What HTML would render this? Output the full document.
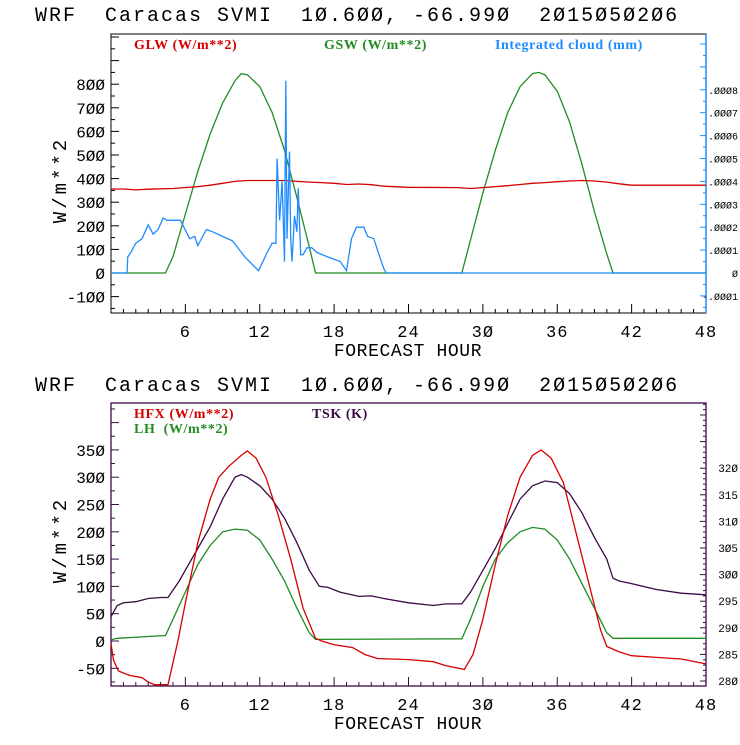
<!DOCTYPE html>
<html><head><meta charset="utf-8"><style>
body{margin:0;background:#fff;}
svg text{font-family:"Liberation Mono",monospace;white-space:pre;}
.lg{font-family:"Liberation Serif",serif;font-weight:bold;font-size:14px;letter-spacing:0.6px;}
</style></head><body>
<svg id="chart" width="740" height="740" xmlns="http://www.w3.org/2000/svg">
<rect width="740" height="740" fill="#fff"/>
<g id="top"></g>
<g id="bot"></g>
</svg>
<script>
// ---- data ----
const glwHours=[0,1,2,3,5,7,8,9,10,11,14,15,16,17,18,19,20,21,22,24,28,29,30,32,33,34,35,36,37,38,39,40,41,42,48];
const glwVals=[356,356,352,355,358,366,372,380,388,392,392,388,385,383,380,375,377,374,368,363,362,358,362,370,375,380,383,387,390,392,390,385,378,372,372];
const gswHours=[0,4.4,5,6,7,8,9,10,10.5,11,12,13,14,15,16,16.5,28.3,29,30,31,32,33,34,34.5,35,36,37,38,39,40,40.5,48];
const gswVals=[0,0,70,250,430,590,720,815,845,840,790,680,520,320,110,0,0,140,340,520,680,790,845,850,840,770,640,460,260,80,0,0];
const cloudHours=[0,1.3,1.35,1.6,2,2.5,3,3.4,3.8,4.2,4.5,5.6,6.35,6.75,7.0,7.7,8.2,9.0,9.8,10.8,11.9,12.6,13.0,13.3,13.4,13.6,13.8,14.0,14.1,14.2,14.4,14.5,14.6,14.8,15.0,15.1,15.3,15.5,15.8,16.2,16.6,17.5,18.5,19.0,19.4,19.8,20.4,20.7,21.2,21.5,22.0,22.2,48];
const cloudVals=[0,0,0.7,0.9,1.3,1.5,2.1,1.7,1.9,2.4,2.3,2.3,1.5,1.6,1.2,1.9,1.8,1.6,1.4,0.7,0.1,0.9,1.3,1.3,5.0,2.3,4.0,0.5,8.4,1.5,5.3,1.5,0.5,2.5,1.8,3.7,0.8,0.8,1.1,1.1,0.9,0.7,0.5,0.1,1.5,2.0,2.0,1.6,1.5,1.0,0.2,0,0];
const hfxHours=[0,0.2,0.6,1.5,2.5,3,3.5,4.6,5.4,6,7,8,8.7,9.5,10.5,11,11.7,12.5,13.5,14.5,15.5,16.5,17,18,19.5,20.5,21.5,24,26,27,28.5,29.2,30,31,32,33,34,34.7,35.5,36.5,37.5,38.5,39.5,40,41,42,44,46,48];
const hfxVals=[-5,-35,-55,-63,-67,-75,-80,-80,0,70,180,260,300,320,340,348,335,300,230,150,60,5,0,-7,-12,-25,-32,-34,-38,-45,-52,-25,40,140,230,300,340,350,335,290,200,110,20,-10,-20,-27,-30,-33,-42];
const lhHours=[0,0.5,4.4,5,6,7,8,9,10,11,12,13,14,15,16,16.5,28.3,29,30,31,32,33,34,35,36,37,38,39,40,40.5,48];
const lhVals=[2,5,10,40,90,140,175,200,205,203,185,150,110,60,15,3,4,40,100,150,180,200,208,205,185,150,105,60,15,5,5];
const tskHours=[0,0.5,1,2,3,4,4.6,5.5,6.5,7,8,9,10,10.5,11,12,13,14,15,16,16.8,17.5,18.5,20,21,22,24,26,27,28.3,29,30,31,32,33,34,35,36,37,38,39,40,40.5,41,42,44,46,48];
const tskVals=[292.1,294.2,294.7,294.9,295.5,295.7,295.7,298.8,302.9,304.9,309.0,314.2,318.3,318.8,318.3,316.7,314.2,310.6,306.0,300.8,297.8,297.6,296.7,295.9,296.0,295.5,294.7,294.2,294.5,294.5,296.7,300.8,304.9,309.6,314.2,316.7,317.6,317.3,315.2,311.6,307.0,302.9,299.3,298.8,298.3,297.2,296.5,296.2];
const topLeftTicks=[-100,0,100,200,300,400,500,600,700,800];
const topRightTicks=[-1,0,1,2,3,4,5,6,7,8];
const botLeftTicks=[-50,0,50,100,150,200,250,300,350];
const botRightTicks=[280,285,290,295,300,305,310,315,320];
const xTicks=[6,12,18,24,30,36,42,48];

const NS="http://www.w3.org/2000/svg";
function mk(parent,tag,attrs,txt){const e=document.createElementNS(NS,tag);for(const k in attrs)e.setAttribute(k,attrs[k]);if(txt!==undefined)e.textContent=txt;parent.appendChild(e);return e;}
const X0=111,X1=706;
const xs=h=>X0+(X1-X0)*h/48;
function line(g,hours,vals,ys,color,name){
  const pts=hours.map((h,i)=>xs(h).toFixed(1)+","+ys(vals[i]).toFixed(1)).join(" ");
  const p=mk(g,"polyline",{points:pts,fill:"none",stroke:color,"stroke-width":1.3});
  
  
}
function xaxis(g,yb,color){
  for(let h=1;h<48;h++){const maj=h%6===0;mk(g,"line",{x1:xs(h),x2:xs(h),y1:yb,y2:yb-(maj?9:4),stroke:color});}
  xTicks.forEach(t=>{const e=mk(g,"text",{x:xs(t),y:yb+24,"font-size":17,"letter-spacing":1,"text-anchor":"middle"},String(t).replace(/0/g,"Ø"));
    });
  const t=mk(g,"text",{x:408,y:yb+43,"font-size":18,"letter-spacing":0.6,"text-anchor":"middle"},"FORECAST HOUR");
  
}
function title(g,y){const t=mk(g,"text",{x:35,y:y,"font-size":20,"letter-spacing":2},"WRF  Caracas SVMI  1Ø.6ØØ, -66.99Ø  2Ø15Ø5Ø2Ø6");
  }

// ---- top panel ----
(function(){
  const g=document.getElementById("top");
  const T=34,B=313;
  const yl=v=>273-v*0.236, yr=v=>273-v*22.9;
  title(g,21);
  mk(g,"rect",{x:X0,y:T,width:X1-X0,height:B-T,fill:"none",stroke:"#000"});
  mk(g,"line",{x1:X1,x2:X1,y1:T,y2:B,stroke:"#1e8cff","stroke-width":1.5});
  for(let v=-150;v<=1100;v+=50){const y=yl(v);if(y<T||y>B)continue;mk(g,"line",{x1:X0,x2:X0+(v%100===0?8:4),y1:y,y2:y,stroke:"#000"});}
  topLeftTicks.forEach(v=>{const e=mk(g,"text",{x:X0-6,y:yl(v)+6,"font-size":16,"text-anchor":"end"},String(v).replace(/0/g,"Ø"));});
  for(let v=-1.5;v<=11;v+=0.5){const y=yr(v);if(y<T||y>B)continue;mk(g,"line",{x1:X1,x2:X1-(Number.isInteger(v)?6:3),y1:y,y2:y,stroke:"#1e8cff"});}
  topRightTicks.forEach(v=>{const s=v===0?"Ø":(v<0?"-.ØØØ"+(-v):".ØØØ"+v);const e=mk(g,"text",{x:738,y:yr(v)+4,"font-size":10,"text-anchor":"end"},s);});
  const yt=mk(g,"text",{x:0,y:0,"font-size":19,"letter-spacing":3,transform:"translate(66,180) rotate(-90)","text-anchor":"middle"},"W/m**2");
  
  line(g,gswHours,gswVals,yl,"#228b22","gsw-line");
  line(g,glwHours,glwVals,yl,"#d40000","glw-line");
  line(g,cloudHours,cloudVals,yr,"#1e8cff","cloud-line");
  [[134,"#d40000","GLW (W/m**2)"],[324,"#228b22","GSW (W/m**2)"],[495,"#1e8cff","Integrated cloud (mm)"]].forEach(a=>{const e=mk(g,"text",{x:a[0],y:49,fill:a[1],class:"lg"},a[2]);});
  xaxis(g,B,"#000");
})();

// ---- bottom panel ----
(function(){
  const g=document.getElementById("bot");
  const T=403,B=686;
  const yl=v=>641-v*0.546, yr=v=>681-(v-280)*5.32;
  title(g,391);
  mk(g,"rect",{x:X0,y:T,width:X1-X0,height:B-T,fill:"none",stroke:"#3c0a46","stroke-width":1.3});
  for(let v=-75;v<=450;v+=25){const y=yl(v);if(y<T||y>B)continue;mk(g,"line",{x1:X0,x2:X0+(v%50===0?8:4),y1:y,y2:y,stroke:"#3c0a46"});}
  botLeftTicks.forEach(v=>{const e=mk(g,"text",{x:X0-6,y:yl(v)+6,"font-size":16,"text-anchor":"end"},String(v).replace(/0/g,"Ø"));});
  for(let v=280;v<=333;v+=1){const y=yr(v);if(y<T||y>B)continue;mk(g,"line",{x1:X1,x2:X1-(v%5===0?6:3),y1:y,y2:y,stroke:"#3c0a46"});}
  botRightTicks.forEach(v=>{const e=mk(g,"text",{x:738,y:yr(v)+4,"font-size":11,"text-anchor":"end"},String(v).replace(/0/g,"Ø"));});
  const yt=mk(g,"text",{x:0,y:0,"font-size":19,"letter-spacing":3,transform:"translate(66,540) rotate(-90)","text-anchor":"middle"},"W/m**2");
  
  line(g,lhHours,lhVals,yl,"#228b22","lh-line");
  line(g,tskHours,tskVals,yr,"#3c0a46","tsk-line");
  line(g,hfxHours,hfxVals,yl,"#d40000","hfx-line");
  [[134,418,"#d40000","HFX (W/m**2)"],[134,433,"#228b22","LH  (W/m**2)"],[312,418,"#3c0a46","TSK (K)"]].forEach(a=>{const e=mk(g,"text",{x:a[0],y:a[1],fill:a[2],class:"lg"},a[3]);});
  xaxis(g,B,"#3c0a46");
})();
</script>
</body></html>
